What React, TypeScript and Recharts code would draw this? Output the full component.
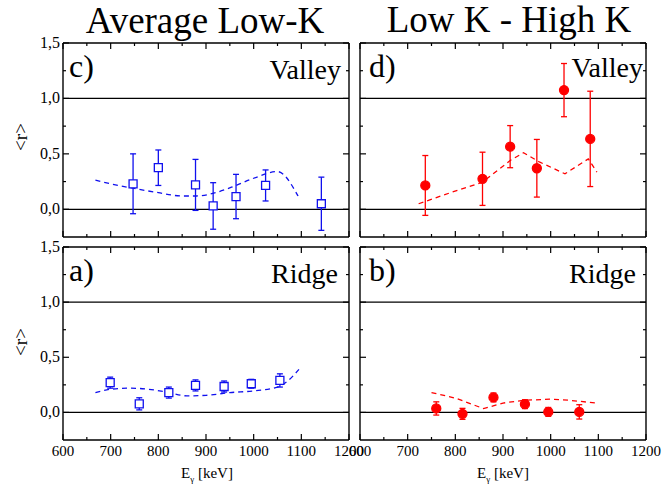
import React from 'react';
import {
  ComposedChart, XAxis, YAxis, Scatter, Line, ErrorBar, ReferenceLine
} from 'recharts';

const FONT = "'Liberation Serif', 'Times New Roman', serif";

// c) Average Low-K, Valley
const energyC = [747, 800, 878, 915, 963, 1025, 1142];
const valueC = [0.23, 0.375, 0.22, 0.03, 0.115, 0.215, 0.05];
const errC = [0.27, 0.16, 0.23, 0.21, 0.2, 0.14, 0.24];
const curveCx = [668, 700, 747, 800, 850, 880, 920, 960, 1000, 1050, 1093];
const curveCy = [0.263, 0.23, 0.19, 0.15, 0.12, 0.12, 0.15, 0.21, 0.28, 0.34, 0.12];

// a) Average Low-K, Ridge
const energyA = [699, 760, 822, 878, 938, 995, 1055];
const valueA = [0.27, 0.078, 0.18, 0.245, 0.235, 0.26, 0.29];
const errA = [0.05, 0.055, 0.05, 0.05, 0.05, 0.04, 0.06];
const curveAx = [668, 700, 740, 780, 822, 860, 900, 950, 1000, 1050, 1070, 1095];
const curveAy = [0.18, 0.21, 0.22, 0.21, 0.18, 0.15, 0.155, 0.18, 0.195, 0.23, 0.28, 0.39];

// d) Low K - High K, Valley
const energyD = [737, 857, 915, 971, 1028, 1083];
const valueD = [0.215, 0.275, 0.565, 0.37, 1.075, 0.635];
const errD = [0.27, 0.24, 0.19, 0.26, 0.24, 0.43];
const curveDx = [723, 790, 857, 915, 943, 975, 1030, 1079, 1097];
const curveDy = [0.05, 0.15, 0.245, 0.44, 0.51, 0.43, 0.32, 0.455, 0.335];

// b) Low K - High K, Ridge
const energyB = [760, 815, 880, 946, 995, 1060];
const valueB = [0.036, -0.013, 0.136, 0.075, 0.005, 0.005];
const errB = [0.06, 0.05, 0.04, 0.04, 0.04, 0.065];
const curveBx = [750, 800, 859, 900, 943, 1000, 1040, 1095];
const curveBy = [0.18, 0.13, 0.035, 0.085, 0.11, 0.12, 0.11, 0.085];

const xTicks = [600, 650, 700, 750, 800, 850, 900, 950, 1000, 1050, 1100, 1150, 1200];
const yTicks = [0, 0.25, 0.5, 0.75, 1, 1.25, 1.5];

const toPoints = (xs: number[], ys: number[], es?: number[]) =>
  xs.map((x, i) => ({ x, y: ys[i], err: es ? es[i] : 0 }));

const isMajorX = (v: number) => v % 100 === 0;
const isMajorY = (v: number) => Math.abs(v * 2 - Math.round(v * 2)) < 1e-6;
const fmtY = (v: number) => v.toFixed(1).replace('.', ',');

const T = (props: any) => <text fill="#000" {...props} style={{ fontFamily: FONT }} />;

const xTick = (side: 'top' | 'bottom', withLabel: boolean) => (props: any) => {
  const { x, y, payload } = props;
  const v = payload.value;
  const len = isMajorX(v) ? 6 : 3;
  const dir = side === 'bottom' ? -1 : 1;
  return (
    <g>
      <line x1={x} x2={x} y1={y} y2={y + dir * len} stroke="#000" strokeWidth={1.2} />
      {withLabel && isMajorX(v) && (
        <T x={x} y={y + 16} textAnchor="middle" fontSize={15}>{v}</T>
      )}
    </g>
  );
};

const yTick = (side: 'left' | 'right', withLabel: boolean) => (props: any) => {
  const { x, y, payload } = props;
  const v = payload.value;
  const len = isMajorY(v) ? 6 : 3;
  const dir = side === 'left' ? 1 : -1;
  return (
    <g>
      <line x1={x} x2={x + dir * len} y1={y} y2={y} stroke="#000" strokeWidth={1.2} />
      {withLabel && isMajorY(v) && (
        <T x={x - 3} y={y + 5} textAnchor="end" fontSize={16}>{fmtY(v)}</T>
      )}
    </g>
  );
};

type PanelProps = {
  left: number; right: number; top: number; bottom: number;
  points: { x: number; y: number; err: number }[];
  curve: { x: number; y: number }[];
  color: string;
  shape: 'square' | 'circle';
  curveType: 'monotone' | 'linear';
  xLabels: boolean;
  yLabels: boolean;
};

const Panel = (p: PanelProps) => (
  <div style={{ position: 'absolute', left: 0, top: 0 }}>
    <ComposedChart
      width={662}
      height={490}
      margin={{ top: p.top - 1, left: p.left - 1, right: 662 - p.right - 1, bottom: 490 - p.bottom - 1 }}
    >
      <XAxis dataKey="x" type="number" domain={[600, 1200]} ticks={xTicks} interval={0}
        height={1} tickSize={0} tickMargin={0} tickLine={false} allowDataOverflow
        axisLine={{ stroke: '#000', strokeWidth: 1.4 }} tick={xTick('bottom', p.xLabels)} />
      <XAxis xAxisId="top" orientation="top" dataKey="x" type="number" domain={[600, 1200]} ticks={xTicks} interval={0}
        height={1} tickSize={0} tickMargin={0} tickLine={false} allowDataOverflow
        axisLine={{ stroke: '#000', strokeWidth: 1.4 }} tick={xTick('top', false)} />
      <YAxis dataKey="y" type="number" domain={[-0.25, 1.5]} ticks={yTicks} interval={0}
        width={1} tickSize={0} tickMargin={0} tickLine={false} allowDataOverflow
        axisLine={{ stroke: '#000', strokeWidth: 1.4 }} tick={yTick('left', p.yLabels)} />
      <YAxis yAxisId="right" orientation="right" dataKey="y" type="number" domain={[-0.25, 1.5]} ticks={yTicks} interval={0}
        width={1} tickSize={0} tickMargin={0} tickLine={false} allowDataOverflow
        axisLine={{ stroke: '#000', strokeWidth: 1.4 }} tick={yTick('right', false)} />
      <ReferenceLine y={0} stroke="#000" strokeWidth={1.3} />
      <ReferenceLine y={1} stroke="#000" strokeWidth={1.3} />
      <Line data={p.curve} dataKey="y" type={p.curveType} stroke={p.color} strokeWidth={1.3}
        strokeDasharray="5 4" dot={false} isAnimationActive={false} />
      <Scatter data={p.points} dataKey="y" shape={p.shape}
        fill={p.shape === 'square' ? '#fff' : p.color} stroke={p.color} strokeWidth={1.3}
        isAnimationActive={false}>
        <ErrorBar dataKey="err" direction="y" width={3} stroke={p.color} strokeWidth={1.3} />
      </Scatter>
    </ComposedChart>
  </div>
);

const BLUE = '#1010ee';
const RED = '#ff0000';

const Elabel = ({ x }: { x: number }) => (
  <T x={x} y={478} fontSize={15} textAnchor="middle">
    E<tspan fontSize={9} dy={4}>γ</tspan><tspan dy={-4}> [keV]</tspan>
  </T>
);

const App = () => (
  <div style={{ position: 'absolute', left: 0, top: 0, width: 662, height: 490, background: '#fff' }}>
    <Panel left={63} right={349} top={43} bottom={237}
      points={toPoints(energyC, valueC, errC)} curve={toPoints(curveCx, curveCy)}
      color={BLUE} shape="square" curveType="monotone" xLabels={false} yLabels />
    <Panel left={63} right={349} top={247} bottom={440}
      points={toPoints(energyA, valueA, errA)} curve={toPoints(curveAx, curveAy)}
      color={BLUE} shape="square" curveType="monotone" xLabels yLabels />
    <Panel left={360} right={646} top={43} bottom={237}
      points={toPoints(energyD, valueD, errD)} curve={toPoints(curveDx, curveDy)}
      color={RED} shape="circle" curveType="linear" xLabels={false} yLabels={false} />
    <Panel left={360} right={646} top={247} bottom={440}
      points={toPoints(energyB, valueB, errB)} curve={toPoints(curveBx, curveBy)}
      color={RED} shape="circle" curveType="linear" xLabels yLabels={false} />
    <svg width={662} height={490} style={{ position: 'absolute', left: 0, top: 0, pointerEvents: 'none' }}>
      <T x={205} y={33} fontSize={37} textAnchor="middle">Average Low-K</T>
      <T x={509} y={32} fontSize={37} textAnchor="middle">Low K - High K</T>
      <T x={69} y={77} fontSize={32}>c)</T>
      <T x={341} y={79} fontSize={28} textAnchor="end">Valley</T>
      <T x={369} y={77} fontSize={32}>d)</T>
      <T x={643} y={77} fontSize={28} textAnchor="end">Valley</T>
      <T x={69} y={281} fontSize={32}>a)</T>
      <T x={338} y={283} fontSize={28} textAnchor="end">Ridge</T>
      <T x={369} y={281} fontSize={32}>b)</T>
      <T x={636} y={283} fontSize={28} textAnchor="end">Ridge</T>
      <T transform="translate(27,137) rotate(-90)" fontSize={19} textAnchor="middle">&lt;r&gt;</T>
      <T transform="translate(27,342) rotate(-90)" fontSize={19} textAnchor="middle">&lt;r&gt;</T>
      <Elabel x={207} />
      <Elabel x={503} />
    </svg>
  </div>
);

export default App;
